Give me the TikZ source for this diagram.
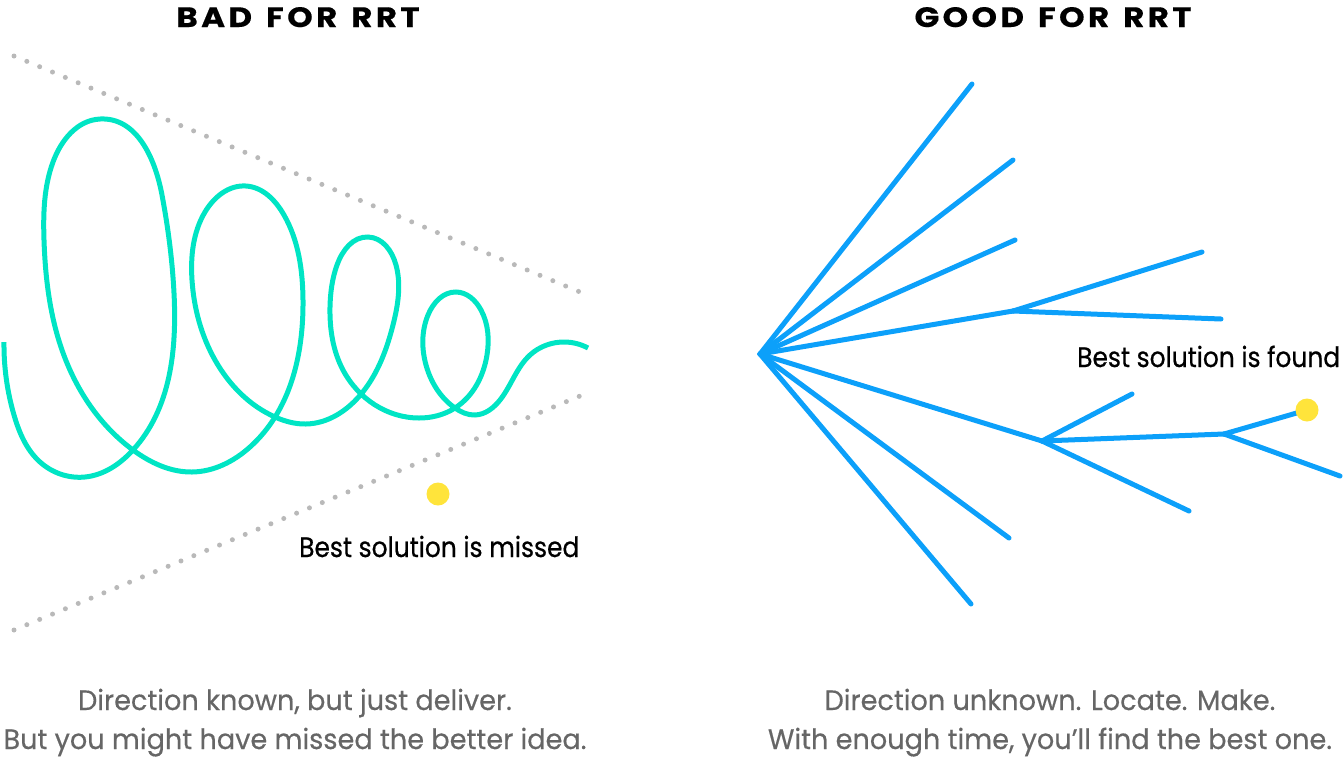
\documentclass[tikz,border=0pt]{standalone}
\usepackage{fontspec}
\usetikzlibrary{hobby}
\setmainfont{Poppins}
\newfontfamily\titlefont[LetterSpace=12,FakeStretch=1.16,FakeBold=0.4]{Poppins}
\newfontfamily\capfont[FakeStretch=0.97,FakeBold=0.4]{Poppins}
\newfontfamily\labfont[FakeStretch=0.89,FakeBold=0.6]{Poppins}
\definecolor{spiral}{RGB}{0,229,196}
\definecolor{tree}{RGB}{12,160,250}
\definecolor{sun}{RGB}{255,228,59}
\definecolor{dotgray}{RGB}{185,185,185}
\definecolor{capgray}{RGB}{102,102,102}
\newcommand{\tgap}{\hspace{14pt}}
\tikzset{
  titletext/.style={anchor=base,inner sep=0pt,font=\titlefont\bfseries\fontsize{28}{32}\selectfont},
  captext/.style={anchor=base,inner sep=0pt,text=capgray,font=\capfont\fontsize{28}{32}\selectfont},
  labtext/.style={anchor=base west,inner sep=0pt,font=\labfont\fontsize{28}{32}\selectfont},
  branch/.style={draw=tree,line width=5pt,line cap=round,line join=round},
  dotline/.style={draw=dotgray,line width=5pt,line cap=round,dash pattern=on 0pt off 13.9pt},
  sol/.style={circle,fill=sun,minimum size=23pt,inner sep=0pt},
  spiralline/.style={draw=spiral,line width=5pt}
}
\begin{document}
\begin{tikzpicture}[x=1pt,y=-1pt]
\useasboundingbox (0,0) rectangle (1344,764);
% titles
\node[titletext] (tbad) at (298,27) {BAD\tgap FOR\tgap RRT};
\node[titletext] (tgood) at (1053,27) {GOOD\tgap FOR\tgap RRT};
% dotted boundaries
\coordinate (d1a) at (14,56);
\coordinate (d1b) at (580,292);
\coordinate (d2a) at (14,630);
\coordinate (d2b) at (580,396);
\draw[dotline] (d1a) -- (d1b);
\draw[dotline] (d2a) -- (d2b);
% spiral
\draw[spiralline,use Hobby shortcut]
 (4,342) .. (14,415) .. (40,462) .. (85,477) .. (133,450) .. (174,293)
 .. (162,195) .. (100,119) .. (53,162) .. (44,240) .. (62,350) .. (133,450)
 .. (192,472) .. (250,447) .. (303,300) .. (284,215) .. (246,186)
 .. (205,212) .. (192,280) .. (215,360) .. (275,417) .. (306,424)
 .. (362,393) .. (393,325) .. (396,265) .. (368,237) .. (337,265) .. (330,307)
 .. (343,370) .. (419,418) .. (455,408) .. (487,355) .. (481,310) .. (456,292)
 .. (428,315) .. (426,365) .. (455,408) .. (475,415) .. (500,400) .. (530,355)
 .. (565,342) .. (588,348);
% missed solution
\node[sol] (missed) at (438,494) {};
\node[labtext] (lmissed) at (299,557) {Best solution is missed};
% tree
\coordinate (R) at (760,354);
\coordinate (e1) at (972,84);
\coordinate (e2) at (1013,160);
\coordinate (e3) at (1015,240);
\coordinate (A) at (1013,311);
\coordinate (a1) at (1202,252);
\coordinate (a2) at (1221,319);
\coordinate (B) at (1042,441);
\coordinate (b1) at (1132,394);
\coordinate (C) at (1224,434);
\coordinate (Y) at (1307,410);
\coordinate (c2) at (1340,476);
\coordinate (b2) at (1189,511);
\coordinate (e6) at (1009,538);
\coordinate (e7) at (971,604);
\draw[branch] (R) -- (e1);
\draw[branch] (R) -- (e2);
\draw[branch] (R) -- (e3);
\draw[branch] (R) -- (A);
\draw[branch] (A) -- (a1);
\draw[branch] (A) -- (a2);
\draw[branch] (R) -- (B);
\draw[branch] (B) -- (b1);
\draw[branch] (B) -- (C);
\draw[branch] (C) -- (Y);
\draw[branch] (C) -- (c2);
\draw[branch] (B) -- (b2);
\draw[branch] (R) -- (e6);
\draw[branch] (R) -- (e7);
\node[sol] (found) at (Y) {};
\node[labtext] (lfound) at (1077,367) {Best solution is found};
% captions
\node[captext] (c1a) at (295,710) {Direction known, but just deliver.};
\node[captext] (c1b) at (295,749) {But you might have missed the better idea.};
\node[captext] (c2a) at (1050,710) {Direction unknown. Locate. Make.};
\node[captext] (c2b) at (1050,749) {With enough time, you’ll find the best one.};
\end{tikzpicture}
\end{document}
